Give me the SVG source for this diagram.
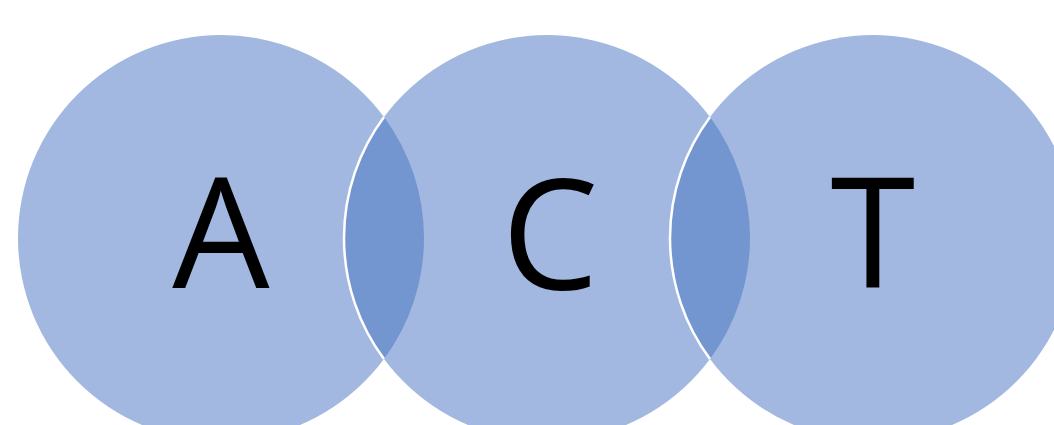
<svg xmlns="http://www.w3.org/2000/svg" width="1054" height="425" viewBox="0 0 1054 425">
<style>
.c{fill:#A2B8E0}
.lens{fill:#7395D0}
.edge{fill:none;stroke:#FFFFFF;stroke-width:2.5}
.t{font-family:"Open Sans","Liberation Sans",sans-serif;font-size:154px;fill:#000;text-anchor:middle}
</style>
<rect width="1054" height="425" fill="#FFFFFF"/>
<g id="node-A">
<circle class="c" cx="221" cy="238" r="203"/>
</g>
<g id="node-C">
<circle class="c" cx="547" cy="238" r="203"/>
</g>
<g id="node-T">
<circle class="c" cx="873" cy="238" r="203"/>
</g>
<g id="overlaps">
<path class="lens" d="M384,117 A203,203 0 0 1 384,359 A203,203 0 0 1 384,117 Z"/>
<path class="lens" d="M710,117 A203,203 0 0 1 710,359 A203,203 0 0 1 710,117 Z"/>
<path class="edge" d="M384,359 A203,203 0 0 1 384,117"/>
<path class="edge" d="M710,359 A203,203 0 0 1 710,117"/>
</g>
<g id="labels">
<text class="t" x="221" y="288">A</text>
<text class="t" x="550" y="290">C</text>
<text class="t" x="873" y="288">T</text>
</g>
</svg>
